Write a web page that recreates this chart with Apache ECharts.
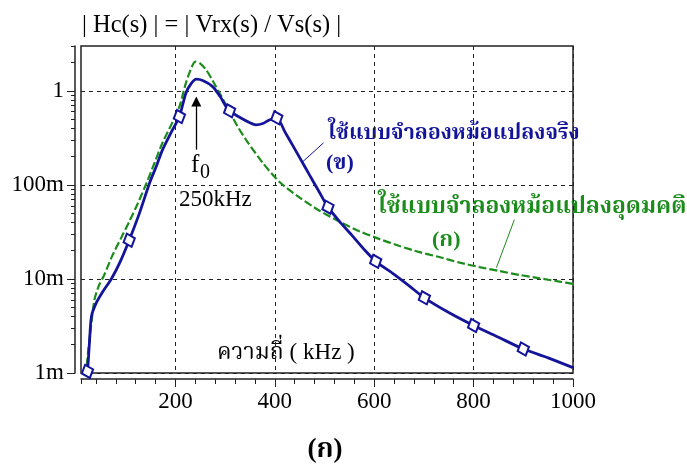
<!DOCTYPE html>
<html><head><meta charset="utf-8">
<script src="https://cdn.jsdelivr.net/npm/echarts@6/dist/echarts.min.js"></script>
<style>html,body{margin:0;padding:0;background:#fff}#c{width:687px;height:464px}</style>
</head><body><div id="c"></div>
<script>
// ---- data (frequency in kHz, |Hc| magnitude) ----
const realX = [18, 23, 27, 31, 41, 55, 71, 89, 107, 128, 148, 162, 174, 192, 208, 221, 232, 242, 256, 275, 290, 302, 309, 330, 349, 362, 376, 389, 404, 420, 436, 452, 470, 488, 507, 530, 557, 580, 603, 640, 671, 701, 750, 800, 850, 900, 950, 1000];
const realY = [0.0007, 0.00104, 0.0021, 0.0040, 0.0056, 0.0075, 0.0100, 0.0153, 0.0258, 0.0507, 0.105, 0.160, 0.236, 0.367, 0.533, 0.945, 1.20, 1.33, 1.28, 1.11, 0.87, 0.68, 0.613, 0.52, 0.46, 0.435, 0.45, 0.49, 0.517, 0.369, 0.263, 0.187, 0.127, 0.0867, 0.058, 0.041, 0.0284, 0.0205, 0.0154, 0.0112, 0.0084, 0.0063, 0.0044, 0.0032, 0.0024, 0.0018, 0.00145, 0.00114];
const realMarkX = [23, 107, 208, 309, 404, 507, 603, 701, 800, 900];
const realMarkY = [0.00104, 0.0258, 0.533, 0.613, 0.517, 0.058, 0.0154, 0.0063, 0.0032, 0.0018];
const idealX = [17, 20, 25, 30, 37, 46, 57, 73, 91, 107, 124, 142, 158, 174, 192, 208, 221, 231, 240, 250, 262, 275, 289, 309, 325, 342, 376, 409, 450, 490, 530, 570, 611, 651, 691, 731, 772, 812, 852, 892, 933, 973, 1000];
const idealY = [0.0007, 0.0010, 0.0018, 0.0031, 0.0060, 0.0085, 0.0111, 0.0177, 0.0275, 0.0406, 0.0631, 0.105, 0.172, 0.281, 0.44, 0.68, 1.21, 1.70, 2.05, 1.95, 1.67, 1.28, 0.945, 0.60, 0.42, 0.302, 0.171, 0.108, 0.0731, 0.0532, 0.0407, 0.0322, 0.0265, 0.0224, 0.0193, 0.0171, 0.0149, 0.01337, 0.01213, 0.01105, 0.01015, 0.00938, 0.00887];
// axis ticks and labels
const xLabelValues = [200, 400, 600, 800, 1000];
const xMinorTicks = [10, 40, 80, 120, 160, 200, 240, 280, 320, 360, 400, 440, 480, 520, 560, 600, 640, 680, 720, 760, 800, 840, 880, 920, 960, 1000];
const yLabelValues = [0.001, 0.01, 0.1, 1];
const yLabelTexts = ['1m', '10m', '100m', '1'];
const yMinorTicks = [0.002, 0.003, 0.004, 0.005, 0.006, 0.007, 0.008, 0.009,
  0.02, 0.03, 0.04, 0.05, 0.06, 0.07, 0.08, 0.09,
  0.2, 0.3, 0.4, 0.5, 0.6, 0.7, 0.8, 0.9, 2, 3];
// annotations in data coordinates
const f0Arrow = [[242, 0.237], [242, 0.77]];
const realCallout = [[456, 0.176], [498, 0.28]];
const idealCallout = [[846, 0.0132], [882, 0.0427]];

const SERIF = '"Liberation Serif", "DejaVu Serif", serif';
const THAI = '"Liberation Serif", "Noto Serif Thai", "Noto Sans Thai", "Norasi", "Loma", "Garuda", serif';
const BLUE = '#14149b';
const GREEN = '#1c8c1c';
const INK = '#222';

const pairs = (xs, ys) => xs.map((x, i) => [x, ys[i]]);
const nearestLabel = v => {
  let best = 0, d = Infinity;
  yLabelValues.forEach((t, i) => { const e = Math.abs(Math.log10(v) - Math.log10(t)); if (e < d) { d = e; best = i; } });
  return d < 0.01 ? yLabelTexts[best] : '';
};
const gridRect = {left: 81, top: 46, width: 492, height: 327};

const chart = echarts.init(document.getElementById('c'), null, {renderer: 'canvas'});
chart.setOption({
  animation: false,
  backgroundColor: '#fff',
  grid: [
    Object.assign({show: true, borderColor: INK, borderWidth: 1.5, backgroundColor: 'transparent'}, gridRect),
    Object.assign({show: false}, gridRect)
  ],
  xAxis: [
    {type: 'value', gridIndex: 0, min: 10, max: 1000, offset: 6, position: 'bottom',
     axisLine: {show: true, onZero: false, lineStyle: {color: INK, width: 1.5}},
     axisTick: {show: true, customValues: xLabelValues, length: 8, lineStyle: {color: INK, width: 1}},
     axisLabel: {show: true, customValues: xLabelValues, margin: 11, fontFamily: SERIF, fontSize: 23, color: '#000',
                 formatter: v => String(Math.round(v))},
     splitLine: {show: true, lineStyle: {color: INK, width: 1, type: [4, 4]}}},
    {type: 'value', gridIndex: 1, min: 10, max: 1000, offset: 6, position: 'bottom',
     axisLine: {show: false, onZero: false},
     axisTick: {show: true, customValues: xMinorTicks, length: 5, lineStyle: {color: INK, width: 1}},
     axisLabel: {show: false}, splitLine: {show: false}}
  ],
  yAxis: [
    {type: 'log', logBase: 10, gridIndex: 0, min: 0.001, max: 3, offset: 6, position: 'left',
     axisLine: {show: true, onZero: false, lineStyle: {color: INK, width: 1.5}},
     axisTick: {show: true, customValues: yLabelValues, length: 8, lineStyle: {color: INK, width: 1}},
     axisLabel: {show: true, customValues: yLabelValues, margin: 11, fontFamily: SERIF, fontSize: 23, color: '#000',
                 formatter: v => nearestLabel(v)},
     splitLine: {show: true, lineStyle: {color: INK, width: 1, type: [4, 4]}}},
    {type: 'log', logBase: 10, gridIndex: 1, min: 0.001, max: 3, offset: 6, position: 'left',
     axisLine: {show: false, onZero: false},
     axisTick: {show: true, customValues: yMinorTicks, length: 4, lineStyle: {color: INK, width: 1}},
     axisLabel: {show: false}, splitLine: {show: false}}
  ],
  series: [
    {type: 'line', name: 'ideal', xAxisIndex: 0, yAxisIndex: 0, data: pairs(idealX, idealY),
     smooth: 0.25, showSymbol: false, symbol: 'none',
     lineStyle: {color: GREEN, width: 2.2, type: [8, 3]}, z: 3,
     markLine: {silent: true, symbol: ['none', 'none'], label: {show: false},
       lineStyle: {color: GREEN, width: 1, type: 'solid'},
       data: [[{coord: idealCallout[0]}, {coord: idealCallout[1]}]]}},
    {type: 'line', name: 'real', xAxisIndex: 0, yAxisIndex: 0, data: pairs(realX, realY),
     smooth: 0.25, showSymbol: false, symbol: 'none',
     lineStyle: {color: BLUE, width: 2.8}, z: 4,
     markLine: {silent: true, symbol: ['none', 'none'], label: {show: false},
       lineStyle: {color: BLUE, width: 1, type: 'solid'},
       data: [[{coord: realCallout[0]}, {coord: realCallout[1]}]]}},
    {type: 'scatter', name: 'realMarks', xAxisIndex: 0, yAxisIndex: 0, data: pairs(realMarkX, realMarkY),
     symbol: 'diamond', symbolSize: [12, 14], symbolRotate: 20,
     itemStyle: {color: '#fff', opacity: 1, borderColor: BLUE, borderWidth: 2}, z: 5, clip: true},
    {type: 'line', name: 'arrow', xAxisIndex: 0, yAxisIndex: 0, data: [], symbol: 'none',
     markLine: {silent: true, symbol: ['none', 'triangle'], symbolSize: 10, label: {show: false},
       lineStyle: {color: '#000', width: 1.3, type: 'solid'},
       data: [[{coord: f0Arrow[0]}, {coord: f0Arrow[1]}]]}}
  ],
  graphic: [
    {type: 'text', x: 82, y: 26, style: {text: '| Hc(s) | = | Vrx(s) / Vs(s) |', font: '24.5px ' + SERIF, fill: '#000', verticalAlign: 'middle'}},
    {type: 'text', x: 191, y: 165, style: {text: 'f', font: '25px ' + SERIF, fill: '#000', verticalAlign: 'middle'}},
    {type: 'text', x: 200, y: 173, style: {text: '0', font: '20px ' + SERIF, fill: '#000', verticalAlign: 'middle'}},
    {type: 'text', x: 179, y: 200, style: {text: '250kHz', font: '23px ' + SERIF, fill: '#000', verticalAlign: 'middle'}},
    {type: 'text', x: 328, y: 134, style: {text: 'ใช้แบบจำลองหม้อแปลงจริง', font: 'bold 21.2px ' + THAI, fill: BLUE, verticalAlign: 'middle'}},
    {type: 'text', x: 326, y: 163, style: {text: '(ข)', font: 'bold 22px ' + THAI, fill: BLUE, verticalAlign: 'middle'}},
    {type: 'text', x: 378, y: 207, style: {text: 'ใช้แบบจำลองหม้อแปลงอุดมคติ', font: 'bold 22.8px ' + THAI, fill: GREEN, verticalAlign: 'middle'}},
    {type: 'text', x: 432, y: 240, style: {text: '(ก)', font: 'bold 22px ' + THAI, fill: GREEN, verticalAlign: 'middle'}},
    {type: 'text', x: 217, y: 353, style: {text: 'ความถี่ ( kHz )', font: '23px ' + THAI, fill: '#000', verticalAlign: 'middle'}},
    {type: 'text', x: 325, y: 450, style: {text: '(ก)', font: 'bold 27px ' + THAI, fill: '#000', align: 'center', verticalAlign: 'middle'}}
  ]
});
</script></body></html>
